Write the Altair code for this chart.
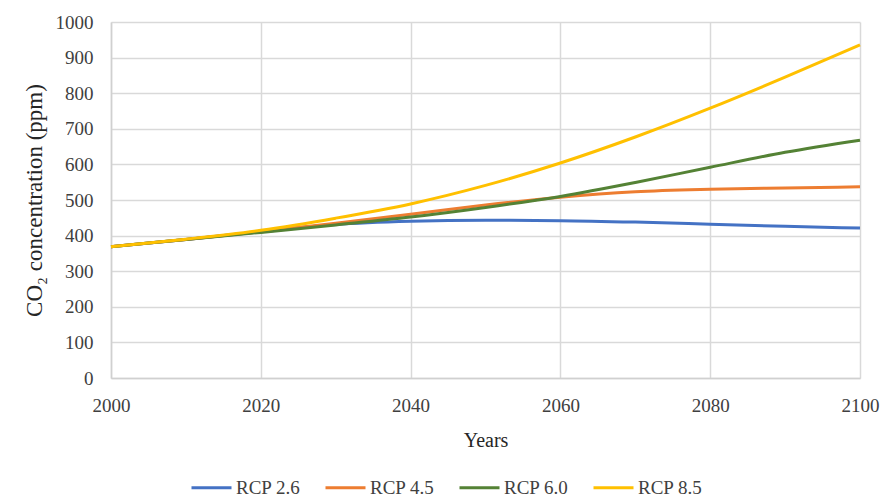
import altair as alt
import pandas as pd

# CO2 concentration pathways (ppm), decadal values 2000-2100
years = [2000, 2010, 2020, 2030, 2040, 2050, 2060, 2070, 2080, 2090, 2100]
rcp26 = [369, 389, 411, 431, 440, 443, 442, 438, 432, 426, 421]
rcp45 = [369, 389, 411, 435, 460, 486, 508, 523, 530, 534, 537]
rcp60 = [369, 389, 409, 430, 452, 479, 510, 549, 592, 634, 668]
rcp85 = [369, 390, 415, 449, 489, 541, 604, 677, 758, 845, 936]

series = ["RCP 2.6", "RCP 4.5", "RCP 6.0", "RCP 8.5"]
colors = ["#4472c4", "#ed7d31", "#548235", "#ffc000"]

rows = []
for name, vals in zip(series, [rcp26, rcp45, rcp60, rcp85]):
    for y, v in zip(years, vals):
        rows.append({"Year": y, "CO2": v, "Scenario": name})
df = pd.DataFrame(rows)

FONT = "Liberation Serif"
TXT = "#404040"

chart = (
    alt.Chart(df)
    .mark_line(strokeWidth=3, interpolate="monotone")
    .encode(
        x=alt.X(
            "Year:Q",
            scale=alt.Scale(domain=[2000, 2100], nice=False, zero=False),
            axis=alt.Axis(
                values=[2000, 2020, 2040, 2060, 2080, 2100],
                format="d",
                labelFlush=False,
                title="Years",
                titlePadding=15,
            ),
        ),
        y=alt.Y(
            "CO2:Q",
            scale=alt.Scale(domain=[0, 1000], nice=False),
            axis=alt.Axis(
                values=list(range(0, 1001, 100)),
                format="d",
                title="CO₂ concentration  (ppm)",
                titleFontSize=23,
                titlePadding=9,
            ),
        ),
        color=alt.Color(
            "Scenario:N",
            scale=alt.Scale(domain=series, range=colors),
            legend=alt.Legend(
                title=None,
                orient="none",
                direction="horizontal",
                legendX=79,
                legendY=444,
                symbolType="stroke",
                symbolSize=1600,
                symbolStrokeWidth=3,
                labelFontSize=19,
                labelFont=FONT,
                labelColor=TXT,
                labelOffset=3,
                columnPadding=18,
            ),
        ),
        order=alt.Order("Scenario:N"),
    )
    .properties(
        width=749,
        height=356,
        autosize=alt.AutoSizeParams(type="none"),
        padding={"left": 111, "top": 22, "right": 24, "bottom": 120},
    )
    .configure_view(stroke=None)
    .configure_axis(
        grid=True,
        gridColor="#d9d9d9",
        gridWidth=1.5,
        domainColor="#d0d0d0",
        domainWidth=1.5,
        ticks=False,
        labelFont=FONT,
        labelFontSize=19,
        labelColor=TXT,
        labelPadding=18,
        titleFont=FONT,
        titleFontSize=20,
        titleFontWeight="normal",
        titleColor="#262626",
    )
)

chart.save("out.html", embed_options={"renderer": "svg", "actions": False})
